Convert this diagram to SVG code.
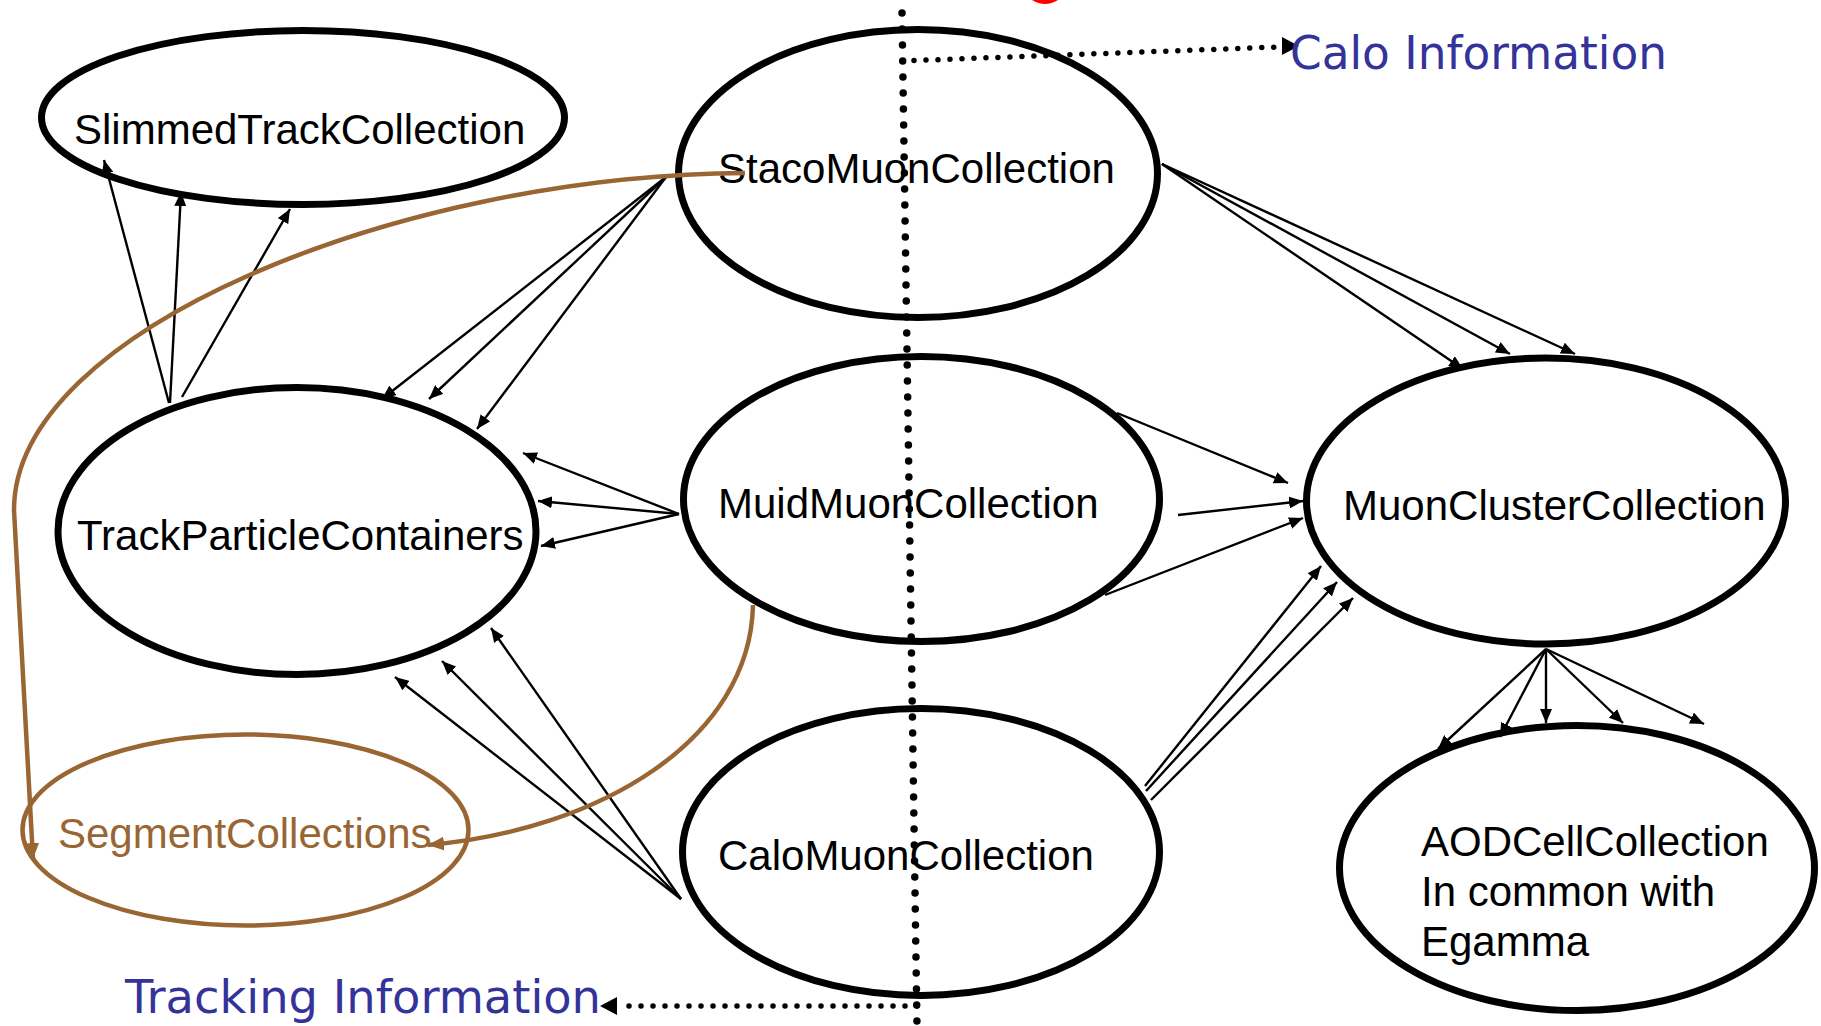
<svg xmlns="http://www.w3.org/2000/svg" width="1821" height="1026" viewBox="0 0 1821 1026">
  <style>
    .node { fill: #ffffff; stroke: #000000; stroke-width: 7; }
    .seg { fill: #ffffff; stroke: #996633; stroke-width: 4.5; }
    .label { font-family: "Liberation Sans", Arial, sans-serif; font-size: 42px; fill: #000000; }
    .label.brown { fill: #996633; }
    .note { font-family: "DejaVu Sans", "Noto Sans", sans-serif; font-size: 47px; fill: #333399; }
    .edge { fill: none; stroke: #000000; stroke-width: 2.4; marker-end: url(#ah); }
    .bedge { fill: none; stroke: #996633; stroke-width: 4.5; marker-end: url(#bh); }
    .divider { fill: none; stroke: #000000; stroke-width: 7.5; stroke-linecap: round; stroke-dasharray: 0 16; }
    .pointer { fill: none; stroke: #000000; stroke-width: 5.5; stroke-linecap: round; stroke-dasharray: 0 12; }
    .tip { fill: #000000; }
  </style>
  <defs>
    <marker id="ah" viewBox="0 0 14 12" refX="14" refY="6" markerWidth="14" markerHeight="12" markerUnits="userSpaceOnUse" orient="auto">
      <path d="M0,0 L14,6 L0,12 z" fill="#000000"/>
    </marker>
    <marker id="bh" viewBox="0 0 16 14" refX="16" refY="7" markerWidth="16" markerHeight="14" markerUnits="userSpaceOnUse" orient="auto">
      <path d="M0,0 L16,7 L0,14 z" fill="#996633"/>
    </marker>
  </defs>

  <rect width="1821" height="1026" fill="#ffffff"/>

  <!-- bottom of a red glyph cut by the top edge -->
  <path d="M1032,0 Q1045,8 1058,0 z" fill="#ff0000"/>

  <g id="nodes">
    <g id="slimmed-track-collection">
      <ellipse class="node" cx="303" cy="117.5" rx="261.5" ry="87"/>
      <text class="label" x="74" y="144">SlimmedTrackCollection</text>
    </g>
    <g id="staco-muon-collection">
      <ellipse class="node" cx="918" cy="173.5" rx="239.5" ry="144"/>
      <text class="label" x="718" y="183">StacoMuonCollection</text>
    </g>
    <g id="track-particle-containers">
      <ellipse class="node" cx="297" cy="531" rx="239" ry="143.5"/>
      <text class="label" x="77" y="550">TrackParticleContainers</text>
    </g>
    <g id="muid-muon-collection">
      <ellipse class="node" cx="921.5" cy="499" rx="238" ry="142.5"/>
      <text class="label" x="718" y="518">MuidMuonCollection</text>
    </g>
    <g id="muon-cluster-collection">
      <ellipse class="node" cx="1546" cy="501" rx="239.5" ry="143"/>
      <text class="label" x="1343" y="520">MuonClusterCollection</text>
    </g>
    <g id="calo-muon-collection">
      <ellipse class="node" cx="921" cy="852" rx="238.5" ry="143.5"/>
      <text class="label" x="718" y="870">CaloMuonCollection</text>
    </g>
    <g id="aod-cell-collection">
      <ellipse class="node" cx="1577" cy="868" rx="237.5" ry="142.5"/>
      <text class="label" x="1421" y="856">AODCellCollection</text>
      <text class="label" x="1421" y="906">In common with</text>
      <text class="label" x="1421" y="956">Egamma</text>
    </g>
    <g id="segment-collections">
      <ellipse class="seg" cx="245.5" cy="830" rx="223" ry="95.5"/>
      <text class="label brown" x="58" y="848">SegmentCollections</text>
    </g>
  </g>

  <g id="connectors">
    <!-- TrackParticleContainers -> SlimmedTrackCollection -->
    <path class="edge" d="M169,403 L104,160"/>
    <path class="edge" d="M170,403 L181,192"/>
    <path class="edge" d="M182,397 L290,209"/>
    <!-- StacoMuonCollection -> TrackParticleContainers -->
    <path class="edge" d="M666,177 L382,399"/>
    <path class="edge" d="M666,177 L429,399"/>
    <path class="edge" d="M666,177 L477,429"/>
    <!-- MuidMuonCollection -> TrackParticleContainers -->
    <path class="edge" d="M679,514 L523,453"/>
    <path class="edge" d="M679,514 L538,501"/>
    <path class="edge" d="M679,514 L541,546"/>
    <!-- CaloMuonCollection -> TrackParticleContainers -->
    <path class="edge" d="M681,899 L395,677"/>
    <path class="edge" d="M681,899 L442,661"/>
    <path class="edge" d="M681,899 L491,628"/>
    <!-- StacoMuonCollection -> MuonClusterCollection -->
    <path class="edge" d="M1162,164 L1463,369"/>
    <path class="edge" d="M1162,164 L1510,354"/>
    <path class="edge" d="M1162,164 L1575,354"/>
    <!-- MuidMuonCollection -> MuonClusterCollection -->
    <path class="edge" d="M1117,413 L1288,483"/>
    <path class="edge" d="M1178,515 L1303,501"/>
    <path class="edge" d="M1105,595 L1303,518"/>
    <!-- CaloMuonCollection -> MuonClusterCollection -->
    <path class="edge" d="M1145,786 L1321,566"/>
    <path class="edge" d="M1146,791 L1337,582"/>
    <path class="edge" d="M1151,800 L1353,598"/>
    <!-- MuonClusterCollection -> AODCellCollection -->
    <path class="edge" d="M1546,649 L1438,749"/>
    <path class="edge" d="M1546,649 L1500,737"/>
    <path class="edge" d="M1546,649 L1546,723"/>
    <path class="edge" d="M1546,649 L1623,723"/>
    <path class="edge" d="M1546,649 L1704,724"/>
    <!-- segment links -->
    <path class="bedge" d="M745,173 C400,175 14,330 14,510 L33,859"/>
    <path class="bedge" d="M753,605 C750,740 600,830 428,845"/>
  </g>

  <g id="information-pointers">
    <path class="divider" d="M902,13 L917,1026"/>
    <path class="pointer" d="M902,61 L1278,47"/>
    <polygon class="tip" points="1282,37 1299,46 1282,55"/>
    <path class="pointer" d="M917,1006 L620,1006"/>
    <polygon class="tip" points="617,997 600,1006 617,1015"/>
    <text class="note" x="1290" y="69" textLength="377" lengthAdjust="spacingAndGlyphs">Calo Information</text>
    <text class="note" x="125" y="1013" textLength="476" lengthAdjust="spacingAndGlyphs">Tracking Information</text>
  </g>
</svg>
